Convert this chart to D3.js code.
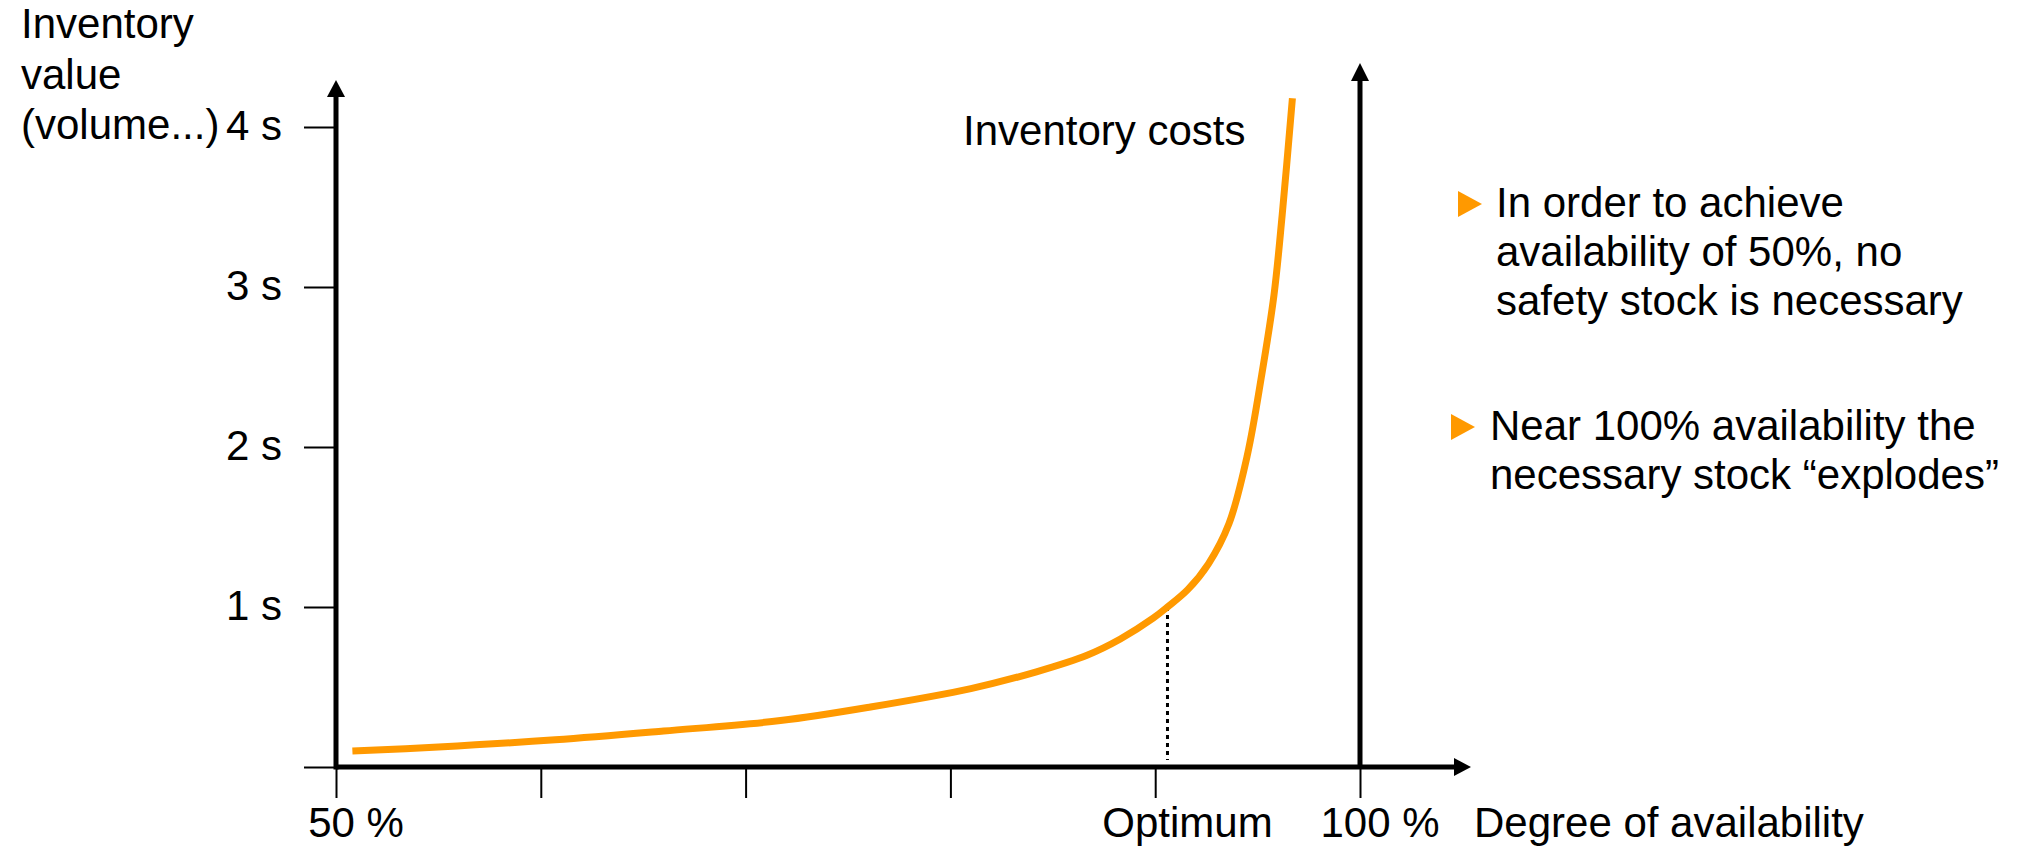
<!DOCTYPE html>
<html>
<head>
<meta charset="utf-8">
<script src="https://cdn.jsdelivr.net/npm/d3@7"></script>
<style>
  body { margin: 0; background: #fff; }
  svg text { font-family: "Liberation Sans", Arial, sans-serif; fill: #000; }
</style>
</head>
<body>
<div id="chart"></div>
<script>
/*
  Inventory costs vs. degree of availability
*/

// curve: availability (%) -> inventory value (in s)
var availability = [50.8, 55, 60.7, 66, 71.7, 76.1, 81, 84.2, 86.7, 88.3, 89.9, 90.6, 91.6, 92.6, 93.6, 94.5, 95.2, 95.8, 96.2, 96.7],
    stockValue   = [0.10, 0.125, 0.17, 0.225, 0.29, 0.375, 0.49, 0.595, 0.70, 0.80, 0.93, 1.0, 1.11, 1.27, 1.52, 1.95, 2.45, 2.95, 3.45, 4.18];

var yTicks = [0, 1, 2, 3, 4],
    yTickLabels = ["", "1 s", "2 s", "3 s", "4 s"],
    xTicks = [50, 60, 70, 80, 90, 100],
    xLabels = [{text: "50 %", at: 50}, {text: "Optimum", at: 90.6}, {text: "100 %", at: 100}],
    optimum = 90.6,
    yLabelLines = ["Inventory", "value", "(volume...)"],
    bullets = [
      ["In order to achieve", "availability of 50%, no", "safety stock is necessary"],
      ["Near 100% availability the", "necessary stock \u201cexplodes\u201d"]
    ];

var W = 2028, H = 849,
    orange = "#ff9900",
    fontSize = 42;

var x = d3.scaleLinear().domain([50, 100]).range([336, 1360]),
    y = d3.scaleLinear().domain([0, 4]).range([767, 127]);

var svg = d3.select("#chart").append("svg")
    .attr("width", W)
    .attr("height", H);

svg.append("rect").attr("width", W).attr("height", H).attr("fill", "#fff");

// thin tick marks on y
var yAxis = svg.append("g")
    .attr("transform", "translate(" + x(50) + ",0)")
    .call(d3.axisLeft(y).tickValues(yTicks).tickSize(32).tickPadding(22)
      .tickFormat(function(d, i) { return yTickLabels[i]; }));
yAxis.select(".domain").remove();
yAxis.selectAll("line").attr("stroke", "#000").attr("stroke-width", 2);
yAxis.selectAll("text")
    .style("font-family", "Liberation Sans, Arial, sans-serif")
    .style("font-size", fontSize + "px")
    .attr("fill", "#000")
    .attr("dy", "0.3em");

// thin tick marks on x
var xAxis = svg.append("g")
    .attr("transform", "translate(0," + y(0) + ")")
    .call(d3.axisBottom(x).tickValues(xTicks).tickSize(31).tickFormat(""));
xAxis.select(".domain").remove();
xAxis.selectAll("line").attr("stroke", "#000").attr("stroke-width", 2);

// x labels
svg.selectAll(".xlabel")
    .data(xLabels)
  .enter().append("text")
    .attr("class", "xlabel")
    .attr("x", function(d) { return x(d.at) + 20; })
    .attr("y", 837)
    .attr("text-anchor", "middle")
    .style("font-size", fontSize + "px")
    .text(function(d) { return d.text; });

svg.append("text")
    .attr("x", x(100) + 114)
    .attr("y", 837)
    .style("font-size", fontSize + "px")
    .text("Degree of availability");

// y label, three lines
svg.append("text")
    .attr("x", 21)
    .attr("y", 38)
    .style("font-size", fontSize + "px")
  .selectAll("tspan")
    .data(yLabelLines)
  .enter().append("tspan")
    .attr("x", 21)
    .attr("dy", function(d, i) { return i ? 50.5 : 0; })
    .text(function(d) { return d; });

// dotted optimum line
svg.append("line")
    .attr("x1", x(optimum)).attr("x2", x(optimum))
    .attr("y1", y(1)).attr("y2", y(0) - 7)
    .attr("stroke", "#000")
    .attr("stroke-width", 3)
    .attr("stroke-dasharray", "4,4");

// cost curve
var pts = availability.map(function(a, i) { return [a, stockValue[i]]; });
var line = d3.line()
    .x(function(d) { return x(d[0]); })
    .y(function(d) { return y(d[1]); })
    .curve(d3.curveCatmullRom.alpha(0.5));

svg.append("path")
    .datum(pts)
    .attr("d", line)
    .attr("fill", "none")
    .attr("stroke", orange)
    .attr("stroke-width", 7);

svg.append("text")
    .attr("x", 963)
    .attr("y", 145)
    .style("font-size", fontSize + "px")
    .text("Inventory costs");

// main axes with arrow heads
var axisW = 5;
svg.append("line")
    .attr("x1", x(50)).attr("x2", x(50))
    .attr("y1", y(0) + axisW / 2).attr("y2", 90)
    .attr("stroke", "#000").attr("stroke-width", axisW);
svg.append("path")
    .attr("d", "M" + (x(50) - 9) + ",97L" + x(50) + ",80L" + (x(50) + 9) + ",97Z")
    .attr("fill", "#000");

svg.append("line")
    .attr("x1", x(50)).attr("x2", 1460)
    .attr("y1", y(0)).attr("y2", y(0))
    .attr("stroke", "#000").attr("stroke-width", axisW);
svg.append("path")
    .attr("d", "M1454," + (y(0) - 9) + "L1471," + y(0) + "L1454," + (y(0) + 9) + "Z")
    .attr("fill", "#000");

svg.append("line")
    .attr("x1", x(100)).attr("x2", x(100))
    .attr("y1", y(0)).attr("y2", 72)
    .attr("stroke", "#000").attr("stroke-width", axisW);
svg.append("path")
    .attr("d", "M" + (x(100) - 9) + ",81L" + x(100) + ",63L" + (x(100) + 9) + ",81Z")
    .attr("fill", "#000");

// bullet notes on the right
var bulletPos = [{tx: 1458, ty: 217, textX: 1496}, {tx: 1451, ty: 440, textX: 1490}];

bullets.forEach(function(lines, b) {
  var p = bulletPos[b];
  svg.append("path")
    .attr("d", "M" + p.tx + "," + (p.ty - 26) + "L" + (p.tx + 24) + "," + (p.ty - 13) + "L" + p.tx + "," + p.ty + "Z")
    .attr("fill", orange);
  svg.append("text")
      .attr("y", p.ty)
      .style("font-size", fontSize + "px")
    .selectAll("tspan")
      .data(lines)
    .enter().append("tspan")
      .attr("x", p.textX)
      .attr("dy", function(d, i) { return i ? 49 : 0; })
      .text(function(d) { return d; });
});
</script>
</body>
</html>
